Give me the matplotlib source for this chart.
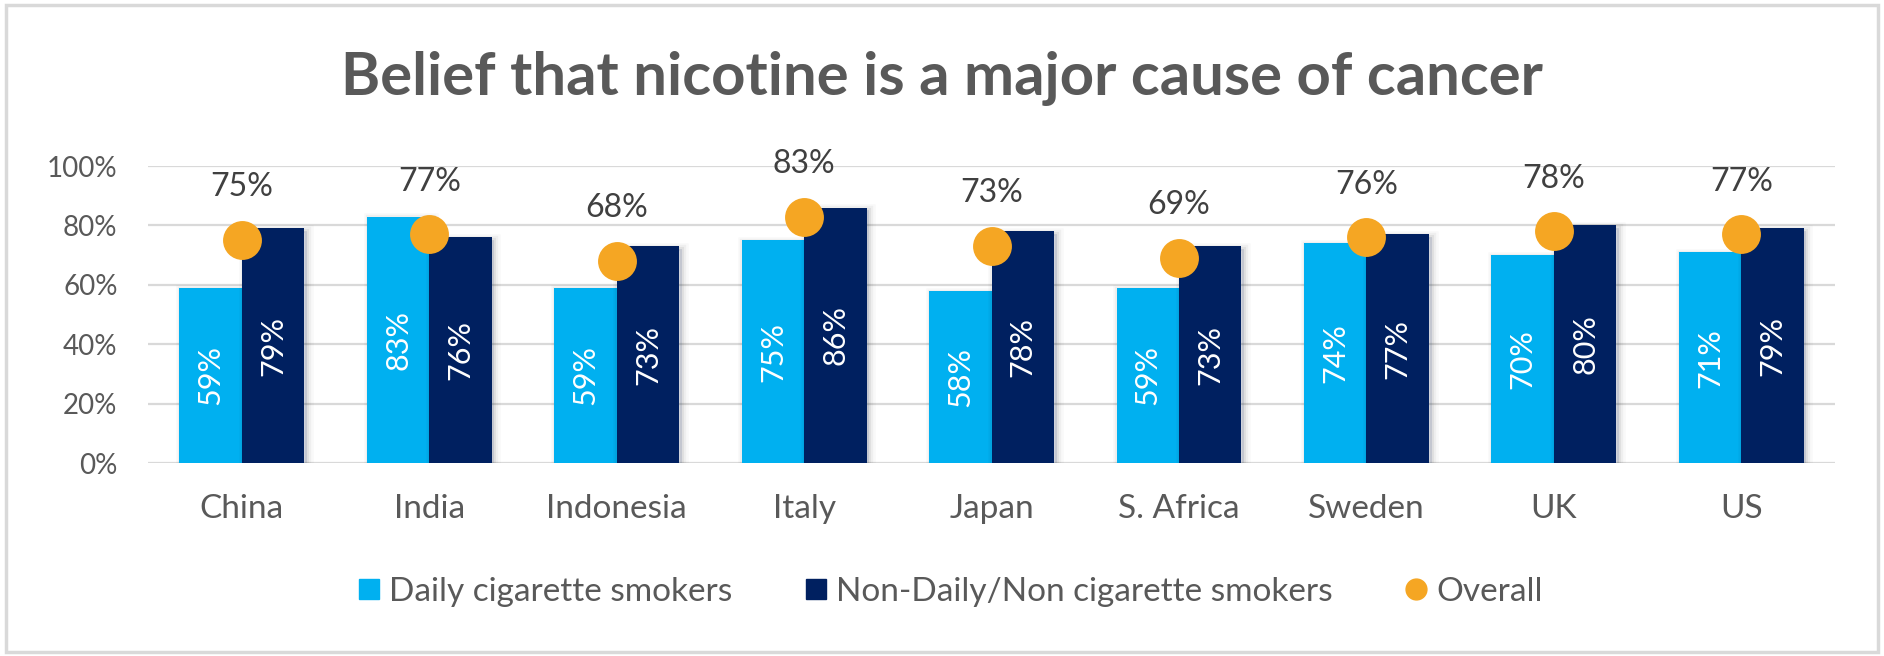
import matplotlib.pyplot as plt
import matplotlib.patheffects as pe
from matplotlib.patches import Rectangle
from matplotlib.lines import Line2D
import numpy as np

countries = ['China', 'India', 'Indonesia', 'Italy', 'Japan', 'S. Africa', 'Sweden', 'UK', 'US']
daily = [59, 83, 59, 75, 58, 59, 74, 70, 71]
non_daily = [79, 76, 73, 86, 78, 73, 77, 80, 79]
overall = [75, 77, 68, 83, 73, 69, 76, 78, 77]
y_ticks = [0, 20, 40, 60, 80, 100]

LIGHT = '#00B0F0'
DARK = '#002060'
ORANGE = '#F5A623'
GRAY = '#595959'

plt.rcParams['font.family'] = ['Lato', 'DejaVu Sans']

fig = plt.figure(figsize=(18.84, 6.56), dpi=100)
ax = fig.add_axes([0.0786, 0.2942, 0.8954, 0.4527])

x = np.arange(len(countries))
w = 0.333

# soft shadow, roughly like the Excel effect
def soft_shadow():
    return [pe.Stroke(offset=(2, -2), linewidth=9, foreground='black', alpha=0.025),
            pe.Stroke(offset=(2, -2), linewidth=6, foreground='black', alpha=0.04),
            pe.Stroke(offset=(2, -2), linewidth=3, foreground='black', alpha=0.06),
            pe.Normal()]

b1 = ax.bar(x - w / 2, daily, w, color=LIGHT, zorder=3)
b2 = ax.bar(x + w / 2, non_daily, w, color=DARK, zorder=3)
for b in list(b1) + list(b2):
    b.set_path_effects(soft_shadow())

for xi, v in zip(x, daily):
    ax.text(xi - w / 2, v / 2, f'{v}%', rotation=90, ha='center', va='center',
            color='white', fontsize=22, zorder=4)
for xi, v in zip(x, non_daily):
    ax.text(xi + w / 2, v / 2, f'{v}%', rotation=90, ha='center', va='center',
            color='white', fontsize=22, zorder=4)

ax.plot(x, overall, linestyle='none', marker='o', markersize=28, color=ORANGE,
        markeredgewidth=0, zorder=5)
for xi, v in zip(x, overall):
    ax.annotate(f'{v}%', (xi, v), xytext=(0, 38), textcoords='offset points',
                ha='center', va='center', fontsize=23, color='#404040', zorder=6)

ax.set_xlim(-0.5, len(countries) - 0.5)
ax.set_ylim(0, 100)
ax.set_yticks(y_ticks)
ax.set_yticklabels([f'{t}%' for t in y_ticks])
ax.set_xticks(x)
ax.set_xticklabels(countries)
ax.tick_params(axis='both', length=0, labelcolor=GRAY)
ax.tick_params(axis='y', labelsize=20, pad=22)
ax.tick_params(axis='x', labelsize=24, pad=22)
ax.grid(axis='y', color='#D9D9D9', linewidth=1.6, zorder=0)
ax.set_axisbelow(True)
for s in ax.spines.values():
    s.set_visible(False)
ax.set_facecolor('none')

fig.text(0.5, 0.881, 'Belief that nicotine is a major cause of cancer', ha='center', va='center',
         fontsize=43, fontweight='bold', color=GRAY)

handles = [
    Line2D([], [], linestyle='none', marker='s', markersize=14, color=LIGHT, label='Daily cigarette smokers'),
    Line2D([], [], linestyle='none', marker='s', markersize=14, color=DARK, label='Non-Daily/Non cigarette smokers'),
    Line2D([], [], linestyle='none', marker='o', markersize=15, color=ORANGE, label='Overall'),
]
leg = fig.legend(handles=handles, loc='center', bbox_to_anchor=(0.503, 0.0976), ncol=3,
                 frameon=False, fontsize=24, handletextpad=0.1, handlelength=1.0, columnspacing=2.0)
for t in leg.get_texts():
    t.set_color(GRAY)

fig.patches.append(Rectangle((0.003, 0.006), 0.994, 0.987, transform=fig.transFigure,
                             fill=False, edgecolor='#D9D9D9', linewidth=2.5))

fig.savefig('out.png', dpi=100)
